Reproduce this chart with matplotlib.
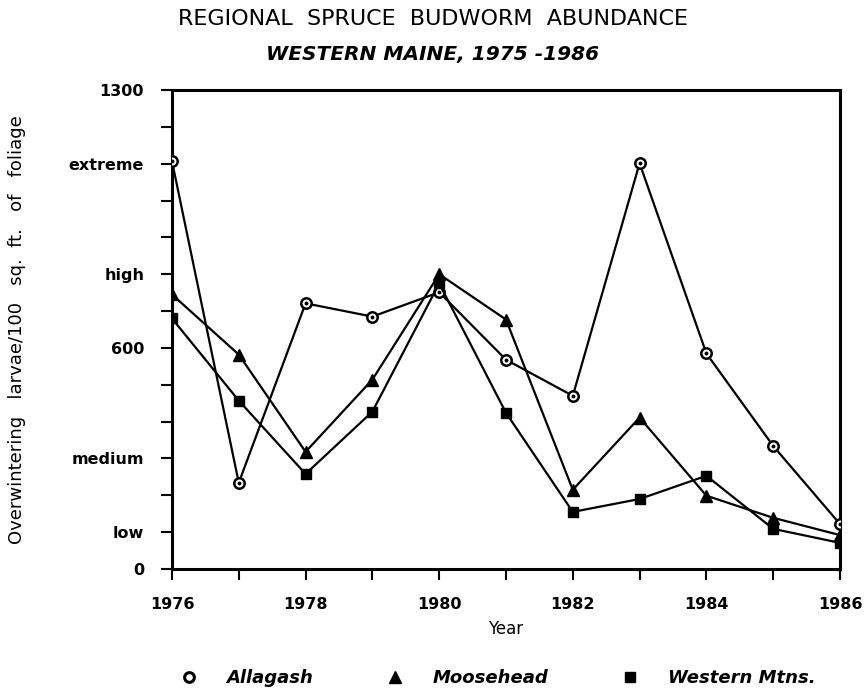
import matplotlib
matplotlib.use("Agg")
import matplotlib.pyplot as plt
from matplotlib.lines import Line2D

years = [1976, 1977, 1978, 1979, 1980, 1981, 1982, 1983, 1984, 1985, 1986]
allagash = [1107, 234, 721, 685, 751, 568, 470, 1101, 585, 334, 122]
moosehead = [745, 582, 318, 514, 800, 677, 215, 411, 199, 139, 92]
western = [680, 457, 258, 427, 775, 424, 155, 190, 253, 109, 71]

series_names = ["Allagash", "Moosehead", "Western Mtns."]
ytick_vals = [0, 100, 300, 600, 800, 1100, 1300]
ytick_labels = ["0", "low", "medium", "600", "high", "extreme", "1300"]
xtick_vals = [1976, 1978, 1980, 1982, 1984, 1986]

plt.rcParams['font.family'] = ['DejaVu Sans']

fig = plt.figure(figsize=(8.65, 6.92), dpi=100)
ax = fig.add_axes([0.1988, 0.1777, 0.7723, 0.6923])

lw = 1.6
ax.plot(years, allagash, color='black', lw=lw, marker='o', ms=7.5,
        mfc='white', mec='black', mew=1.8, zorder=3)
ax.plot(years, allagash, ls='none', marker='o', ms=1.8, color='black', zorder=4)
ax.plot(years, moosehead, color='black', lw=lw, marker='^', ms=9,
        mfc='black', mec='black', zorder=3)
ax.plot(years, western, color='black', lw=lw, marker='s', ms=7.5,
        mfc='black', mec='black', zorder=3)

ax.set_xlim(1976, 1986)
ax.set_ylim(0, 1300)

ax.set_yticks(ytick_vals)
ax.set_yticklabels(ytick_labels)
ax.set_yticks(range(0, 1301, 100), minor=True)
ax.set_xticks(xtick_vals)
ax.set_xticks(years, minor=True)

for s in ax.spines.values():
    s.set_linewidth(2.2)

ax.tick_params(axis='y', which='both', direction='out', length=8, width=1.5,
               labelsize=11.5, pad=12)
ax.tick_params(axis='x', which='both', direction='out', length=8, width=1.5,
               labelsize=11.5, pad=12)
for lab in ax.get_xticklabels() + ax.get_yticklabels():
    lab.set_fontweight('bold')

ax.set_xlabel("Year", fontsize=12, labelpad=6)
ax.set_ylabel("Overwintering   larvae/100   sq.  ft.   of   foliage", fontsize=13)
ax.yaxis.set_label_coords(-0.218, 0.5)

fig.text(0.5, 0.972, "REGIONAL  SPRUCE  BUDWORM  ABUNDANCE", ha='center', va='center',
         fontsize=16)
fig.text(0.5, 0.921, "WESTERN MAINE, 1975 -1986", ha='center', va='center',
         fontsize=14.5, fontstyle='italic', fontweight='bold')

handles = [
    Line2D([], [], ls='none', marker='o', ms=7, mfc='white', mec='black', mew=2.2),
    Line2D([], [], ls='none', marker='^', ms=8, color='black'),
    Line2D([], [], ls='none', marker='s', ms=7, color='black'),
]
leg = fig.legend(handles, series_names, loc='center', bbox_to_anchor=(0.575, 0.02),
                 ncol=3, frameon=False, handlelength=1.0, handletextpad=1.6,
                 columnspacing=4.0, prop={'size': 13, 'style': 'italic', 'weight': 'bold'})

fig.savefig("out.png", dpi=100)
